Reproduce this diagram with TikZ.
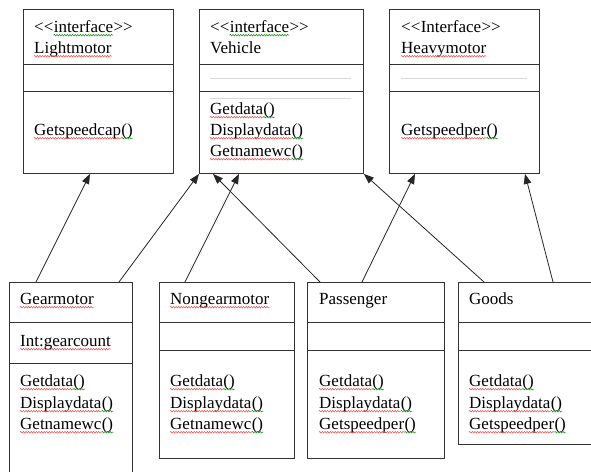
\documentclass[tikz,border=0pt]{standalone}
\usepackage{fontspec}
\setmainfont{Liberation Serif}
\usetikzlibrary{arrows.meta,decorations.pathmorphing}
\tikzset{
  box/.style={draw=black!80, line width=0.9pt, rectangle, inner sep=0pt, anchor=north west},
  divline/.style={draw=black!80, line width=0.9pt},
  faint/.style={draw=black!15, line width=0.9pt},
  txt/.style={inner sep=0pt, anchor=base west, font=\fontsize{17}{20}\selectfont},
  redsq/.style={draw=red!75, line width=0.45pt, decorate, decoration={snake, segment length=2.6pt, amplitude=0.8pt}},
  greensq/.style={draw=green!55!black, line width=0.45pt, decorate, decoration={snake, segment length=2.6pt, amplitude=0.8pt}},
  inh/.style={draw=black!85, line width=0.8pt, -{Triangle[length=10pt,width=7.5pt]}}
}
% word with red squiggle (and optional green "()")
\newcommand{\sqword}[3]{%
  \node[txt] (#1) at (#2) {#3};
  \draw[redsq] ([yshift=-3.2pt]#1.base west) -- ([yshift=-3.2pt]#1.base east);}
\newcommand{\sqmeth}[3]{%
  \node[txt] (#1) at (#2) {#3};
  \node[txt] (#1p) at (#1.base east) {()};
  \draw[redsq] ([yshift=-3.2pt]#1.base west) -- ([yshift=-3.2pt]#1.base east);
  \draw[greensq] ([yshift=-3.2pt]#1p.base west) -- ([yshift=-3.2pt]#1p.base east);}
\newcommand{\stereo}[3]{%
  \node[txt] (#1a) at (#2) {{<}{<}};
  \node[txt] (#1b) at (#1a.base east) {#3};
  \node[txt] (#1c) at (#1b.base east) {{>}{>}};}
\begin{document}
\begin{tikzpicture}[x=1pt,y=-1pt]
\useasboundingbox (0,0) rectangle (591,471);
\fill[white] (0,0) rectangle (591,471);
\clip (0,0) rectangle (591,471);

% ---- top boxes ----
\node[box, minimum width=150pt, minimum height=164pt] (lm) at (23,9) {};
\node[box, minimum width=164pt, minimum height=164pt] (vh) at (199,9) {};
\node[box, minimum width=150pt, minimum height=164pt] (hv) at (389,9) {};
\foreach \b in {lm,vh,hv}{
  \draw[divline] (\b.west |- 0,64) -- (\b.east |- 0,64);
  \draw[divline] (\b.west |- 0,91) -- (\b.east |- 0,91);
}
\draw[faint] (210,78) -- (351,78);
\draw[faint] (210,98) -- (351,98);
\draw[faint] (401,78) -- (527,78);

% Lightmotor
\stereo{lms}{34,32}{interface}
\draw[greensq] ([yshift=-3.2pt]lmsb.base west) -- ([yshift=-3.2pt]lmsb.base east);
\sqword{lmn}{34,53}{Lightmotor}
\sqmeth{lmm}{34,135}{Getspeedcap}

% Vehicle
\stereo{vhs}{210,32}{interface}
\draw[greensq] ([yshift=-3.2pt]vhsb.base west) -- ([yshift=-3.2pt]vhsb.base east);
\node[txt] (vhn) at (210,53) {Vehicle};
\sqmeth{vhm1}{210,114}{Getdata}
\sqmeth{vhm2}{210,135}{Displaydata}
\sqmeth{vhm3}{210,156}{Getnamewc}

% Heavymotor
\stereo{hvs}{401,32}{Interface}
\sqword{hvn}{401,53}{Heavymotor}
\sqmeth{hvm}{401,135}{Getspeedper}

% ---- bottom boxes ----
\node[box, minimum width=123pt, minimum height=210pt] (gm) at (9,282) {};
\node[box, minimum width=135pt, minimum height=176pt] (ng) at (159,282) {};
\node[box, minimum width=137pt, minimum height=176pt] (ps) at (307,282) {};
\node[box, minimum width=152pt, minimum height=162pt] (gd) at (458,282) {};
\draw[divline] (gm.west |- 0,322) -- (gm.east |- 0,322);
\draw[divline] (gm.west |- 0,363) -- (gm.east |- 0,363);
\foreach \b in {ng,ps,gd}{
  \draw[divline] (\b.west |- 0,322) -- (\b.east |- 0,322);
  \draw[divline] (\b.west |- 0,350) -- (\b.east |- 0,350);
}

% Gearmotor
\sqword{gmn}{20,304}{Gearmotor}
\sqword{gma}{20,346}{Int:gearcount}
\sqmeth{gmm1}{20,386}{Getdata}
\sqmeth{gmm2}{20,408}{Displaydata}
\sqmeth{gmm3}{20,429}{Getnamewc}

% Nongearmotor
\sqword{ngn}{170,304}{Nongearmotor}
\sqmeth{ngm1}{170,386}{Getdata}
\sqmeth{ngm2}{170,408}{Displaydata}
\sqmeth{ngm3}{170,429}{Getnamewc}

% Passenger
\node[txt] (psn) at (319,304) {Passenger};
\sqmeth{psm1}{319,386}{Getdata}
\sqmeth{psm2}{319,408}{Displaydata}
\sqmeth{psm3}{319,429}{Getspeedper}

% Goods
\node[txt] (gdn) at (469,304) {Goods};
\sqmeth{gdm1}{469,386}{Getdata}
\sqmeth{gdm2}{469,408}{Displaydata}
\sqmeth{gdm3}{469,429}{Getspeedper}

% ---- inheritance connectors ----
\draw[inh] ([xshift=27pt]gm.north west) -- ([xshift=67pt]lm.south west);
\draw[inh] ([xshift=110pt]gm.north west) -- (vh.south west);
\draw[inh] ([xshift=26pt]ng.north west) -- ([xshift=40pt]vh.south west);
\draw[inh] ([xshift=13pt]ps.north west) -- ([xshift=14pt]vh.south west);
\draw[inh] ([xshift=55pt]ps.north west) -- ([xshift=26pt]hv.south west);
\draw[inh] ([xshift=26pt]gd.north west) -- (vh.south east);
\draw[inh] ([xshift=95pt]gd.north west) -- ([xshift=136pt]hv.south west);
\end{tikzpicture}
\end{document}
